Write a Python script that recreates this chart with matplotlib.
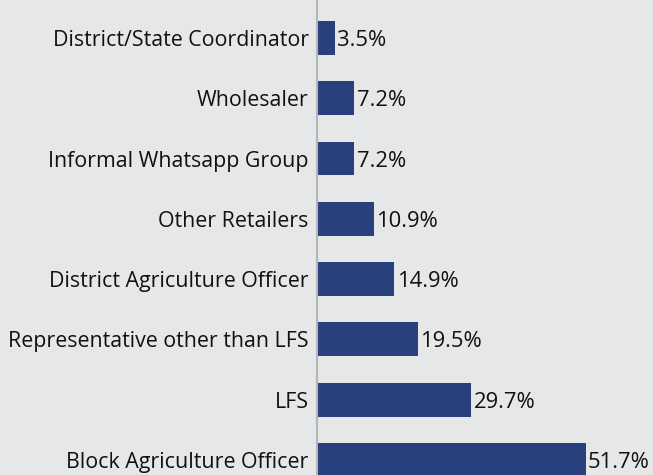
import matplotlib
matplotlib.use("Agg")
import matplotlib.pyplot as plt

categories = ["District/State Coordinator", "Wholesaler", "Informal Whatsapp Group",
              "Other Retailers", "District Agriculture Officer",
              "Representative other than LFS", "LFS", "Block Agriculture Officer"]
values = [3.5, 7.2, 7.2, 10.9, 14.9, 19.5, 29.7, 51.7]

bg = "#e6e7e9"
bar_color = "#27407e"
plt.rcParams['font.family'] = ['Open Sans', 'DejaVu Sans']

fig = plt.figure(figsize=(6.53, 4.75), dpi=100, facecolor=bg)
ax = fig.add_axes([317/653, 0, 1 - 317/653, 1], facecolor=bg)
ypos = list(range(len(categories)))
ax.barh(ypos, values, height=0.56, color=bar_color)
ax.set_ylim(7.25, -0.63)
ax.set_xlim(0, 64.6)
ax.set_yticks(ypos)
ax.set_yticklabels(categories, fontsize=15.4, color="#111111")
for lbl in ax.get_yticklabels():
    lbl.set_va("center_baseline")
ax.tick_params(axis='y', length=0, pad=6)
ax.set_xticks([])
for s in ["top", "right", "bottom"]:
    ax.spines[s].set_visible(False)
ax.spines["left"].set_color("#b5b5b5")
ax.spines["left"].set_linewidth(1.5)
for y, v in zip(ypos, values):
    ax.text(v + 0.4, y, f"{v}%", va="center_baseline", ha="left", fontsize=15.8, color="#111111")
fig.savefig("out.png", dpi=100, facecolor=bg)
